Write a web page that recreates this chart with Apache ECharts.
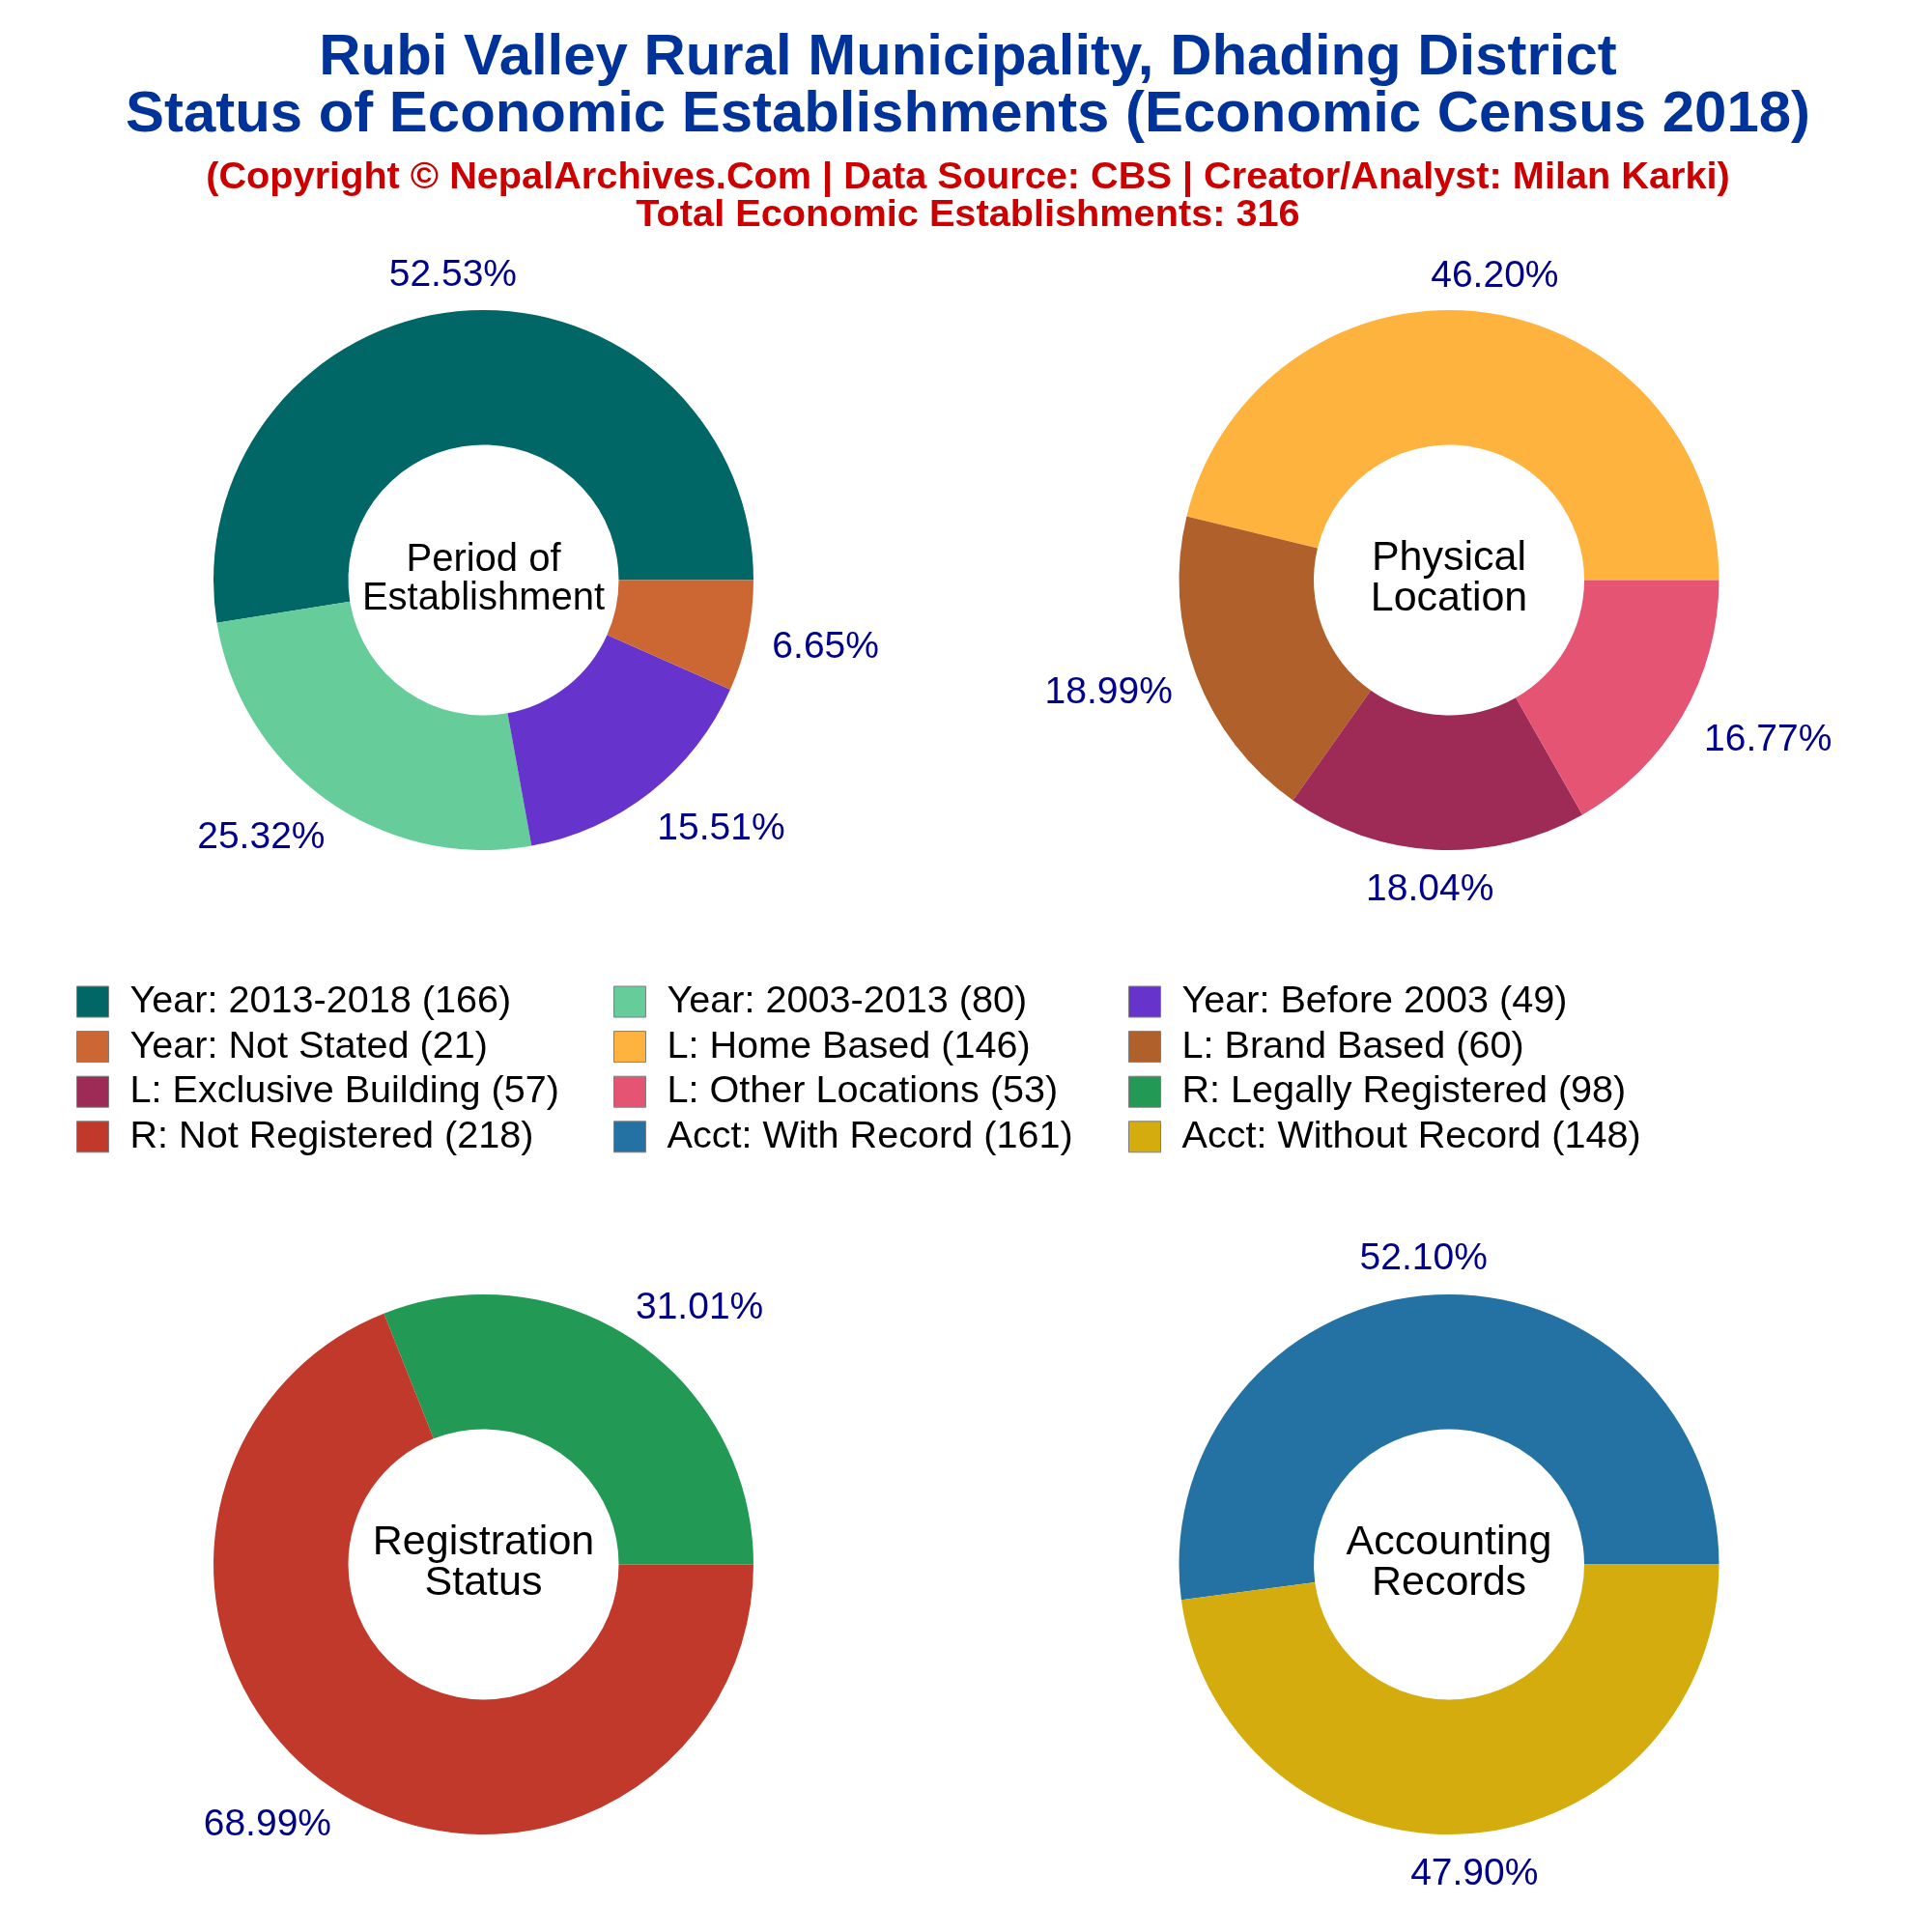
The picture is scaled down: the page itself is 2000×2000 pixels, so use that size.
<!DOCTYPE html>
<html><head><meta charset="utf-8">
<script src="https://cdn.jsdelivr.net/npm/echarts@6/dist/echarts.min.js"></script>
<style>html,body{margin:0;padding:0;background:#fff}#c{width:2000px;height:2000px}</style></head>
<body><div id="c"></div>
<script>
const periodNames = ['Year: 2013-2018','Year: 2003-2013','Year: Before 2003','Year: Not Stated'];
const periodValues = [166,80,49,21];
const periodColors = ['#006666','#66CC99','#6633CC','#CC6633'];
const locationNames = ['L: Home Based','L: Brand Based','L: Exclusive Building','L: Other Locations'];
const locationValues = [146,60,57,53];
const locationColors = ['#FFB33F','#B0602B','#9E2A56','#E55472'];
const registrationNames = ['R: Legally Registered','R: Not Registered'];
const registrationValues = [98,218];
const registrationColors = ['#229954','#C0392B'];
const accountingNames = ['Acct: With Record','Acct: Without Record'];
const accountingValues = [161,148];
const accountingColors = ['#2471A3','#D4AC0D'];
const legendColumns = [
  ['Year: 2013-2018','Year: Not Stated','L: Exclusive Building','R: Not Registered'],
  ['Year: 2003-2013','L: Home Based','L: Other Locations','Acct: With Record'],
  ['Year: Before 2003','L: Brand Based','R: Legally Registered','Acct: Without Record']
];
const titleText = 'Rubi Valley Rural Municipality, Dhading District\nStatus of Economic Establishments (Economic Census 2018)';
const subtitleText = '(Copyright © NepalArchives.Com | Data Source: CBS | Creator/Analyst: Milan Karki)\nTotal Economic Establishments: 316';

const FONT = '"Liberation Sans", Arial, sans-serif';
const R = 279.5, r = 140, MIDX = 1002;
const panels = [
  {names:periodNames, values:periodValues, colors:periodColors, c:[500.5,600.5], label:'Period of\nEstablishment', fs:40, lh:40},
  {names:locationNames, values:locationValues, colors:locationColors, c:[1500,600.5], label:'Physical\nLocation', fs:43, lh:42},
  {names:registrationNames, values:registrationValues, colors:registrationColors, c:[500.5,1619.5], label:'Registration\nStatus', fs:43, lh:42},
  {names:accountingNames, values:accountingValues, colors:accountingColors, c:[1500,1619.5], label:'Accounting\nRecords', fs:43, lh:42}
];
const counts = {};
panels.forEach(p => p.names.forEach((n,i) => counts[n] = p.values[i]));
const clamp = v => Math.max(-1, Math.min(1, v));

const series = panels.map(p => {
  const total = p.values.reduce((a,b)=>a+b,0);
  const mids = []; let acc = 0;
  p.values.forEach(v => { mids.push((acc + v/2)/total*2*Math.PI); acc += v; });
  return {
    type:'pie', radius:[r,R], center:p.c, startAngle:0, clockwise:false,
    animation:false, avoidLabelOverlap:false, silent:true,
    emphasis:{disabled:true}, labelLine:{show:false},
    itemStyle:{borderWidth:0},
    data:p.names.map((n,i)=>({name:n,value:p.values[i],itemStyle:{color:p.colors[i]}})),
    label:{show:true, position:'outside', color:'#00008B', fontFamily:FONT, fontSize:39,
      formatter:o => (o.value/total*100).toFixed(2)+'%'},
    labelLayout:o => {
      const a = mids[o.dataIndex], cs = Math.cos(a), sn = Math.sin(a);
      const hw = o.labelRect.width/2, hh = o.labelRect.height/2, D = R + 20;
      return {x:p.c[0] + cs*(D+6) + hw*clamp(1.4*cs), y:p.c[1] + 2.5 - sn*D - hh*clamp(1.3*sn),
              align:'center', verticalAlign:'middle'};
    }
  };
});

const titles = [
  {text:titleText, left:MIDX, top:31, padding:0, textAlign:'center',
   textStyle:{fontFamily:FONT, fontWeight:'bold', fontSize:59.9, lineHeight:59, color:'#003399'}},
  {text:subtitleText, left:MIDX, top:164.5, padding:0, textAlign:'center',
   textStyle:{fontFamily:FONT, fontWeight:'bold', fontSize:39.7, lineHeight:39, color:'#CC0000'}}
].concat(panels.map(p => ({
  text:p.label, left:p.c[0], top:p.c[1]-p.lh-1, padding:0, textAlign:'center',
  textStyle:{fontFamily:FONT, fontWeight:'normal', fontSize:p.fs, lineHeight:p.lh, color:'#000'}
})));

const legendLefts = [79,635,1168];
const legends = legendColumns.map((col,i) => ({
  data:col, orient:'vertical', left:legendLefts[i], top:1017, padding:0,
  itemWidth:33, itemHeight:32, itemGap:6.6, icon:'rect', selectedMode:false,
  itemStyle:{borderColor:'#7f7f7f', borderWidth:1},
  textStyle:{fontFamily:FONT, fontSize:39.6, color:'#000', padding:[0,0,0,17]},
  formatter:n => n + ' (' + counts[n] + ')'
}));

const chart = echarts.init(document.getElementById('c'), null, {renderer:'canvas'});
chart.setOption({backgroundColor:'#fff', animation:false, title:titles, legend:legends, series});
</script></body></html>
